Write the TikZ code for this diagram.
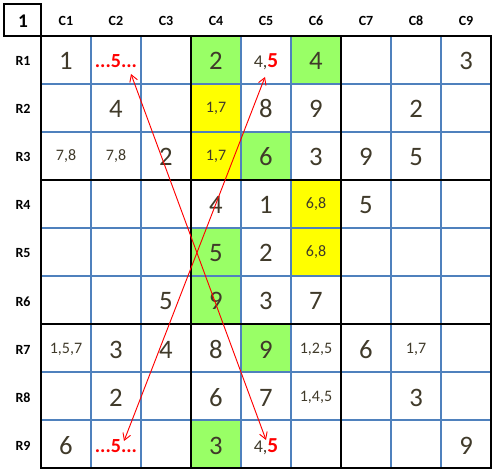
\documentclass[tikz,border=0pt]{standalone}
\usepackage{fontspec}
\setmainfont{Carlito}
\usetikzlibrary{arrows.meta}

\definecolor{gridblue}{RGB}{79,129,189}
\definecolor{cellgreen}{RGB}{153,255,102}
\definecolor{cellyellow}{RGB}{255,255,0}
\definecolor{digitgray}{RGB}{64,58,42}

\begin{document}
\begin{tikzpicture}[x=0.75pt, y=-0.75pt, >={Straight Barb[length=5pt,width=6pt]},
  every node/.style={inner sep=0pt, anchor=base, text=digitgray},
  given/.style={font=\fontsize{20}{20}\selectfont},
  cand/.style={font=\fontsize{12}{12}\selectfont},
  head/.style={font=\bfseries\fontsize{10.5}{10.5}\selectfont, text=black},
  hint/.style={font=\bfseries\fontsize{15}{15}\selectfont, text=red},
  thickline/.style={line width=2.2pt, line cap=rect}]
  % picture size
  \useasboundingbox (0,0) rectangle (495,473);

  % coloured cells (cell c,r spans x 50c-9..50c+41, y 48r-12..48r+36)
  \foreach \r/\c in {1/4,1/6,3/5,5/4,6/4,7/5,9/4}
    \fill[cellgreen] ({50*\c-9},{48*\r-12}) rectangle ++(50,48);
  \foreach \r/\c in {2/4,3/4,4/6,5/6}
    \fill[cellyellow] ({50*\c-9},{48*\r-12}) rectangle ++(50,48);

  % thin grid
  \foreach \i in {1,...,8} {
    \draw[gridblue, line width=0.8pt] ({41+50*\i},36) -- ++(0,432);
    \draw[gridblue, line width=0.8pt] (41,{36+48*\i}) -- ++(450,0);
  }
  % box borders
  \foreach \i in {0,3,6,9} {
    \draw[thickline] ({41+50*\i},36) -- ++(0,432);
    \draw[thickline] (41,{36+48*\i}) -- ++(450,0);
  }
  \draw[thickline] (4,4) rectangle (41,36);

  % headings
  \node[head, font=\bfseries\fontsize{14.5}{14.5}\selectfont] (corner) at (23,28) {1};
  \foreach \c in {1,...,9}
    \node[head] (col\c) at ({16+50*\c},26) {C\c};
  \foreach \r in {1,...,9}
    \node[head] (row\r) at (23,{18+48*\r}) {R\r};

  % given digits
  \foreach \r/\c/\v in {1/1/1,1/4/2,1/6/4,1/9/3,
      2/2/4,2/5/8,2/6/9,2/8/2,
      3/3/2,3/5/6,3/6/3,3/7/9,3/8/5,
      4/4/4,4/5/1,4/7/5,
      5/4/5,5/5/2,
      6/3/5,6/4/9,6/5/3,6/6/7,
      7/2/3,7/3/4,7/4/8,7/5/9,7/7/6,
      8/2/2,8/4/6,8/5/7,8/8/3,
      9/1/6,9/4/3,9/9/9}
    \node[given] (g\r\c) at ({16+50*\c},{22+48*\r}) {\v};

  % candidates
  \foreach \r/\c/\v in {2/4/{1,7},3/1/{7,8},3/2/{7,8},3/4/{1,7},
      4/6/{6,8},5/6/{6,8},7/1/{1,5,7},7/6/{1,2,5},7/8/{1,7},8/6/{1,4,5}}
    \node[cand] (k\r\c) at ({16+50*\c},{17+48*\r}) {\v};

  % the fives
  \node[hint] (f12) at (116,68) {...5...};
  \node[hint] (f92) at (116,452) {...5...};
  \node[cand, font=\fontsize{13.5}{13.5}\selectfont] (f15) at (266,68) {4,{\bfseries\fontsize{16}{16}\selectfont\color{red}5}};
  \node[cand, font=\fontsize{13.5}{13.5}\selectfont] (f95) at (266,452) {4,{\bfseries\fontsize{16}{16}\selectfont\color{red}5}};

  % links
  \draw[<->, red, line width=0.7pt] ([shift={(15,6)}]f12.base) -- ([shift={(0,-12)}]f95.base);
  \draw[<->, red, line width=0.7pt] ([shift={(-1,9)}]f15.base) -- ([shift={(8,-11)}]f92.base);
\end{tikzpicture}
\end{document}
